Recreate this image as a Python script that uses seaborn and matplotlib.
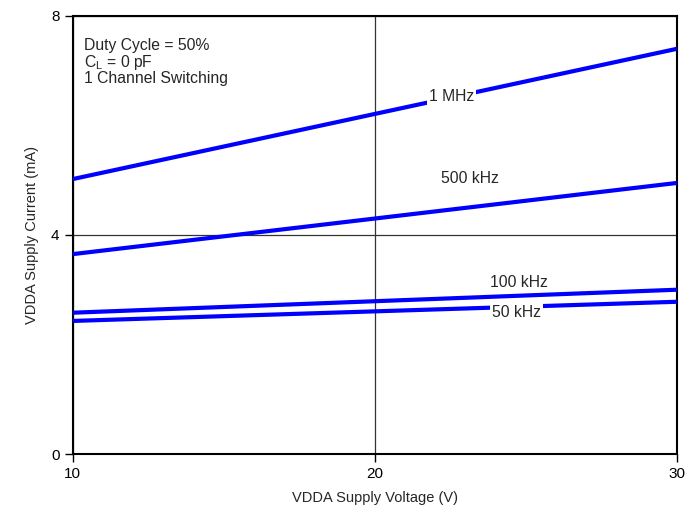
import matplotlib
matplotlib.use("Agg")
import matplotlib.pyplot as plt
import seaborn as sns
import pandas as pd

# Data
voltage = [10, 30]
i_1mhz = [5.02, 7.40]
i_500khz = [3.65, 4.95]
i_100khz = [2.58, 3.00]
i_50khz = [2.43, 2.78]
series_names = ["1 MHz", "500 kHz", "100 kHz", "50 kHz"]

df = pd.DataFrame({
    "voltage": voltage * 4,
    "current": i_1mhz + i_500khz + i_100khz + i_50khz,
    "freq": [n for n in series_names for _ in voltage],
})

sns.set_style("white")
plt.rcParams["font.family"] = ["Liberation Sans", "DejaVu Sans"]

fig = plt.figure(figsize=(6.86, 5.13), dpi=100)
ax = fig.add_axes([0.106, 0.115, 0.881, 0.854])

sns.lineplot(data=df, x="voltage", y="current", hue="freq",
             palette=["#0000ff"] * 4, linewidth=3, legend=False, ax=ax, zorder=3)

ax.set_xlim(10, 30)
ax.set_ylim(0, 8)
ax.set_xticks([10, 20, 30])
ax.set_yticks([0, 4, 8])
ax.grid(True, color="#333333", linewidth=0.9)
ax.set_axisbelow(True)
for s in ax.spines.values():
    s.set_color("black")
    s.set_linewidth(1.5)
    s.set_visible(True)
ax.tick_params(axis="both", direction="out", length=6, width=1, color="black",
               labelsize=11, labelcolor="black", bottom=True, left=True)
ax.set_xlabel("VDDA Supply Voltage (V)", fontsize=10.5, labelpad=7)
ax.set_ylabel("VDDA Supply Current (mA)", fontsize=10.5, labelpad=9)

# curve labels
box = dict(facecolor="white", edgecolor="none", pad=1.5)
fs = 11.3
ax.text(22.53, 6.52, "1 MHz", fontsize=fs, ha="center", va="center", bbox=box, zorder=4)
ax.text(23.16, 5.04, "500 kHz", fontsize=fs, ha="center", va="center", zorder=4)
ax.text(24.78, 3.14, "100 kHz", fontsize=fs, ha="center", va="center", zorder=4)
ax.text(24.68, 2.59, "50 kHz", fontsize=fs, ha="center", va="center", bbox=box, zorder=4)

ax.text(0.018, 0.95, "Duty Cycle = 50%\nC$_\\mathregular{L}$ = 0 pF\n1 Channel Switching",
        transform=ax.transAxes, fontsize=11.3, ha="left", va="top", linespacing=0.98)

fig.savefig("out.png", dpi=100)
